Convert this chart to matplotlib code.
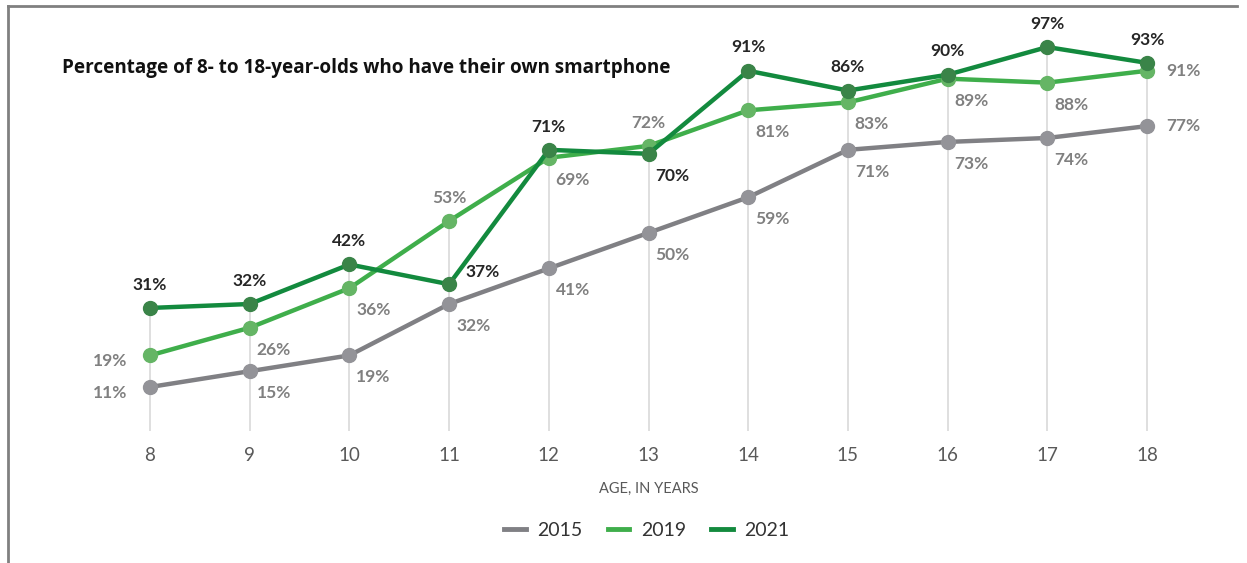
import matplotlib.pyplot as plt
from matplotlib.lines import Line2D

ages = [8, 9, 10, 11, 12, 13, 14, 15, 16, 17, 18]
y2015 = [11, 15, 19, 32, 41, 50, 59, 71, 73, 74, 77]
y2019 = [19, 26, 36, 53, 69, 72, 81, 83, 89, 88, 91]
y2021 = [31, 32, 42, 37, 71, 70, 91, 86, 90, 97, 93]

title = "Percentage of 8- to 18-year-olds who have their own smartphone"

# label placement per point: 'L' left, 'R' right, 'A' above, 'B' below-right, 'AR' above-right
pos2015 = ['L', 'B', 'B', 'B', 'B', 'B', 'B', 'B', 'B', 'B', 'R']
pos2019 = ['L', 'B', 'B', 'A', 'B', 'A', 'B', 'B', 'B', 'B', 'R']
pos2021 = ['A', 'A', 'A', 'AR', 'A', 'B', 'A', 'A', 'A', 'A', 'A']

W, H = 1247, 563
fig = plt.figure(figsize=(W / 100, H / 100), dpi=100)
# data x=8 at px 150, x=18 at px 1147; y=0 at px 430.5, 1% = 3.953 px
ppx = 99.7
x0, x1 = 7.2, 18.8
left = 150 - (8 - x0) * ppx
right = 1147 + (x1 - 18) * ppx
ybot, ytop = 430.5, 430.5 - 100 * 3.953
ax = fig.add_axes([left / W, 1 - ybot / H, (right - left) / W, (ybot - ytop) / H])
ax.set_xlim(x0, x1)
ax.set_ylim(0, 100)

# drop lines
tops = [max(a, b, c) for a, b, c in zip(y2015, y2019, y2021)]
ax.vlines(ages, -0.5, tops, color='#d9d9d9', lw=1.2, zorder=0)

series = [
    ("2015", y2015, '#808084', '#939398', pos2015, '#808080', 3),
    ("2019", y2019, '#3fae4b', '#65b565', pos2019, '#808080', 4),
    ("2021", y2021, '#138a3e', '#3a8448', pos2021, '#262626', 5),
]
offsets = {
    'L': (-16, -4, 'right', 'center'),
    'R': (14, 0, 'left', 'center'),
    'A': (0, 11, 'center', 'bottom'),
    'B': (5, -10, 'left', 'top'),
    'AR': (12, 3, 'left', 'bottom'),
}
for name, vals, lc, mc, poss, tc, z in series:
    ax.plot(ages, vals, color=lc, lw=3.2, zorder=z, solid_capstyle='round')
    ax.plot(ages, vals, 'o', color=mc, ms=10, zorder=z + 0.1, label='_nolegend_')
    for x, v, p in zip(ages, vals, poss):
        dx, dy, ha, va = offsets[p]
        ax.annotate(f"{v}%", (x, v), xytext=(dx, dy), textcoords='offset points',
                    ha=ha, va=va, fontsize=12.5, fontweight='bold', color=tc,
                    family='Lato', zorder=10)

for s in ax.spines.values():
    s.set_visible(False)
ax.set_yticks([])
ax.set_xticks(ages)
ax.tick_params(axis='x', length=0, pad=12, labelsize=13.5, labelcolor='#595959')
for t in ax.get_xticklabels():
    t.set_family('Lato')
ax.set_xlabel("AGE, IN YEARS", fontsize=10.5, color='#595959', family='Lato', labelpad=13)

fig.text(62 / W, 1 - 68 / H, title, fontsize=13.6, fontweight='bold',
         family=['Open Sans', 'DejaVu Sans'], va='center', ha='left', color='#111111')

handles = [Line2D([], [], color=c, lw=3.5) for _, _, c, _, _, _, _ in series]
leg = fig.legend(handles, [s[0] for s in series], loc='center', ncol=3,
                 bbox_to_anchor=(647 / W, 1 - 530 / H), frameon=False,
                 handlelength=1.1, columnspacing=1.3, handletextpad=0.6,
                 prop={'family': 'Lato', 'size': 14})
for t in leg.get_texts():
    t.set_color('#333333')

# outline of the surrounding frame
fig.add_artist(Line2D([8 / W, 1237 / W], [1 - 6 / H, 1 - 6 / H], color='#808080', lw=2))
fig.add_artist(Line2D([8 / W, 8 / W], [1 - 6 / H, 0], color='#808080', lw=2))

fig.savefig("out.png", dpi=100)
